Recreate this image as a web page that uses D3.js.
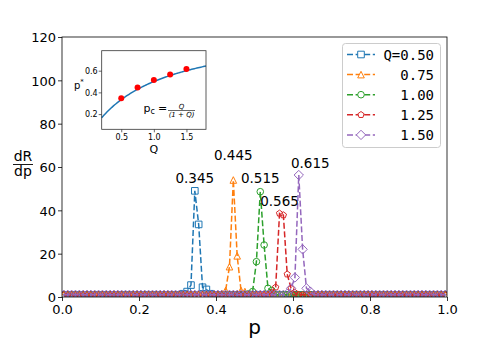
<!DOCTYPE html>
<html>
<head>
<meta charset="utf-8">
<script src="https://cdn.jsdelivr.net/npm/d3@7"></script>
<style>
  body { margin: 0; background: #fff; }
  text { font-family: "DejaVu Sans", sans-serif; fill: #000; }
</style>
</head>
<body>
<div id="chart"></div>
<script>
var width = 491, height = 350;
var margin = {left: 62, top: 37, right: 44, bottom: 53};

// p sampled at 0.005, 0.015, ..., 0.995
var pValues = d3.range(100).map(function(i) { return 0.005 + 0.01 * i; });

var qLabels = ["Q=0.50", "0.75", "1.00", "1.25", "1.50"];
var qValues = [0.5, 0.75, 1.0, 1.25, 1.5];
var peakP = [0.345, 0.445, 0.515, 0.565, 0.615];

var dR_q050 = [
  1,1,1,1,1,1,1,1,1,1,
  1,1,1,1,1,1,1,1,1,1,
  1,1,1,1,1,1,1,1,1,1,
  1,1.5,2.5,5.5,49,33.5,4.5,3.5,1.5,1,
  1,1,1,1,1,1,1,1,1,1,
  1,1,1,1,1,1,1,1,1,1,
  1,1,1,1,1,1,1,1,1,1,
  1,1,1,1,1,1,1,1,1,1,
  1,1,1,1,1,1,1,1,1,1,
  1,1,1,1,1,1,1,1,1,1
];
var dR_q075 = [
  1,1,1,1,1,1,1,1,1,1,
  1,1,1,1,1,1,1,1,1,1,
  1,1,1,1,1,1,1,1,1,1,
  1,1,1,1,1,1,1,1,1,1,
  1,1.5,3,14,54,19,3,2.5,1,1,
  1,1,1,1,1,1,1,1,1,1,
  1,1,1,1,1,1,1,1,1,1,
  1,1,1,1,1,1,1,1,1,1,
  1,1,1,1,1,1,1,1,1,1,
  1,1,1,1,1,1,1,1,1,1
];
var dR_q100 = [
  1,1,1,1,1,1,1,1,1,1,
  1,1,1,1,1,1,1,1,1,1,
  1,1,1,1,1,1,1,1,1,1,
  1,1,1,1,1,1,1,1,1,1,
  1,1,1,1,1,1,1,1,1.5,2.5,
  16.3,48.6,24,4,3,1,1,1,1,1,
  1,1,1,1,1,1,1,1,1,1,
  1,1,1,1,1,1,1,1,1,1,
  1,1,1,1,1,1,1,1,1,1,
  1,1,1,1,1,1,1,1,1,1
];
var dR_q125 = [
  1,1,1,1,1,1,1,1,1,1,
  1,1,1,1,1,1,1,1,1,1,
  1,1,1,1,1,1,1,1,1,1,
  1,1,1,1,1,1,1,1,1,1,
  1,1,1,1,1,1,1,1,1,1,
  1,1,1,1,2,4.5,38.6,37.8,10.5,4,
  2,1,1,1,1,1,1,1,1,1,
  1,1,1,1,1,1,1,1,1,1,
  1,1,1,1,1,1,1,1,1,1,
  1,1,1,1,1,1,1,1,1,1
];
var dR_q150 = [
  1,1,1,1,1,1,1,1,1,1,
  1,1,1,1,1,1,1,1,1,1,
  1,1,1,1,1,1,1,1,1,1,
  1,1,1,1,1,1,1,1,1,1,
  1,1,1,1,1,1,1,1,1,1,
  1,1,1,1,1,1,1,1,1.5,4,
  9,56.3,22,4,2.5,1,1,1,1,1,
  1,1,1,1,1,1,1,1,1,1,
  1,1,1,1,1,1,1,1,1,1,
  1,1,1,1,1,1,1,1,1,1
];
var seriesValues = [dR_q050, dR_q075, dR_q100, dR_q125, dR_q150];

// peak annotation anchors (data coords)
var annotX = [0.345, 0.445, 0.515, 0.565, 0.645];
var annotY = [52.5, 63.2, 52.5, 41.9, 59.5];

var xTicks = [0, 0.2, 0.4, 0.6, 0.8, 1.0];
var yTicks = [0, 20, 40, 60, 80, 100, 120];

var insetXTicks = [0.5, 1.0, 1.5];
var insetYTicks = [0.2, 0.4, 0.6];

var colors = ["#1f77b4", "#ff7f0e", "#2ca02c", "#d62728", "#9467bd"];
var markers = ["square", "triangle", "circle", "pentagon", "diamond"];

var svg = d3.select("#chart").append("svg")
    .attr("width", width)
    .attr("height", height);

var x = d3.scaleLinear().domain([0, 1]).range([margin.left, width - margin.right]);
var y = d3.scaleLinear().domain([0, 120]).range([height - margin.bottom, margin.top]);

function markerPath(kind, s) {
  var h = s / 2, p = d3.path();
  if (kind === "square") {
    p.rect(-h, -h, s, s);
  } else if (kind === "triangle") {
    p.moveTo(0, -h); p.lineTo(h, h); p.lineTo(-h, h); p.closePath();
  } else if (kind === "circle") {
    p.arc(0, 0, h, 0, 2 * Math.PI); p.closePath();
  } else if (kind === "pentagon") {
    for (var k = 0; k < 5; k++) {
      var a = -Math.PI / 2 + k * 2 * Math.PI / 5;
      if (k === 0) p.moveTo(h * Math.cos(a), h * Math.sin(a));
      else p.lineTo(h * Math.cos(a), h * Math.sin(a));
    }
    p.closePath();
  } else if (kind === "diamond") {
    var d = h * Math.SQRT2;
    p.moveTo(0, -d); p.lineTo(d, 0); p.lineTo(0, d); p.lineTo(-d, 0); p.closePath();
  }
  return p.toString();
}

// clip
svg.append("clipPath").attr("id", "plotclip").append("rect")
    .attr("x", x(0)).attr("y", y(120))
    .attr("width", x(1) - x(0)).attr("height", y(0) - y(120));

var plot = svg.append("g").attr("clip-path", "url(#plotclip)");

var line = d3.line()
    .x(function(d) { return x(d[0]); })
    .y(function(d) { return y(d[1]); });

seriesValues.forEach(function(vals, si) {
  var pts = pValues.map(function(p, i) { return [p, vals[i]]; });
  var g = plot.append("g");
  g.append("path")
      .attr("d", line(pts))
      .attr("fill", "none")
      .attr("stroke", colors[si])
      .attr("stroke-width", 1.5)
      .attr("stroke-dasharray", "6,2.6");
  g.selectAll(".mk").data(pts).enter().append("path")
      .attr("transform", function(d) { return "translate(" + x(d[0]) + "," + y(d[1]) + ")"; })
      .attr("d", markerPath(markers[si], 6.6))
      .attr("fill", "none")
      .attr("stroke", colors[si])
      .attr("stroke-width", 1);
});

// axes
var xAxis = svg.append("g")
    .attr("transform", "translate(0," + y(0) + ")")
    .call(d3.axisBottom(x).tickValues(xTicks).tickFormat(d3.format(".1f")).tickSizeOuter(0).tickSize(4));
var yAxis = svg.append("g")
    .attr("transform", "translate(" + x(0) + ",0)")
    .call(d3.axisLeft(y).tickValues(yTicks).tickFormat(d3.format("d")).tickSizeOuter(0).tickSize(4));
[xAxis, yAxis].forEach(function(a) {
  a.select(".domain").remove();
  a.selectAll("text").style("font-family", "DejaVu Sans").style("font-size", "13px").attr("fill", "#000");
  a.selectAll("line").attr("stroke", "#000").attr("stroke-width", 0.8);
});
xAxis.selectAll("text").attr("dy", "0.95em").attr("y", 5);
yAxis.selectAll("text").attr("x", -6).attr("dy", "0.36em");

svg.append("rect")
    .attr("x", x(0)).attr("y", y(120))
    .attr("width", x(1) - x(0)).attr("height", y(0) - y(120))
    .attr("fill", "none").attr("stroke", "#000").attr("stroke-width", 0.8);

// axis labels
svg.append("text")
    .attr("x", (x(0) + x(1)) / 2).attr("y", 334)
    .attr("text-anchor", "middle").style("font-size", "20px").text("p");

var yl = svg.append("g").attr("transform", "translate(23,0)");
yl.append("text").attr("x", 0).attr("y", 161).attr("text-anchor", "middle").style("font-size", "14px").text("dR");
yl.append("line").attr("x1", -10).attr("x2", 10).attr("y1", 164.5).attr("y2", 164.5).attr("stroke", "#000").attr("stroke-width", 0.9);
yl.append("text").attr("x", 0).attr("y", 176).attr("text-anchor", "middle").style("font-size", "14px").text("dp");

// peak annotations
peakP.forEach(function(p, i) {
  svg.append("text")
      .attr("x", x(annotX[i])).attr("y", y(annotY[i]))
      .attr("text-anchor", "middle").style("font-size", "13.5px")
      .text(d3.format(".3f")(p));
});

// legend
var lg = svg.append("g");
lg.append("rect")
    .attr("x", 342.5).attr("y", 43.5).attr("width", 98).attr("height", 104)
    .attr("rx", 3).attr("fill", "#fff").attr("fill-opacity", 0.8)
    .attr("stroke", "#ccc").attr("stroke-width", 1);
qLabels.forEach(function(lab, i) {
  var yy = 54.5 + i * 20.1;
  lg.append("line")
      .attr("x1", 347).attr("x2", 375).attr("y1", yy).attr("y2", yy)
      .attr("stroke", colors[i]).attr("stroke-width", 1.5).attr("stroke-dasharray", "6,2.6");
  lg.append("path")
      .attr("transform", "translate(361," + yy + ")")
      .attr("d", markerPath(markers[i], 6.6))
      .attr("fill", "#fff").attr("stroke", colors[i]).attr("stroke-width", 1);
  lg.append("text")
      .attr("x", 434).attr("y", yy).attr("dy", "0.36em")
      .attr("text-anchor", "end")
      .style("font-family", "DejaVu Sans Mono").style("font-size", "14px")
      .text(lab);
});

// inset
var ix = d3.scaleLinear().domain([0.2, 1.8]).range([101.7, 206]);
var iy = d3.scaleLinear().domain([0.06, 0.784]).range([129.3, 50.7]);
var inset = svg.append("g");
inset.append("rect")
    .attr("x", ix(0.2)).attr("y", iy(0.784))
    .attr("width", ix(1.8) - ix(0.2)).attr("height", iy(0.06) - iy(0.784))
    .attr("fill", "#fff");

var curveQ = d3.range(0.2, 1.8001, 0.02);
inset.append("path")
    .attr("d", d3.line()
      .x(function(q) { return ix(q); })
      .y(function(q) { return iy(q / (1 + q)); })(curveQ))
    .attr("fill", "none").attr("stroke", "#1f77b4").attr("stroke-width", 1.5);

inset.selectAll(".dot").data(qValues).enter().append("circle")
    .attr("cx", function(q) { return ix(q); })
    .attr("cy", function(q, i) { return iy(peakP[i]); })
    .attr("r", 3).attr("fill", "#ff0000");

var ixa = inset.append("g").attr("transform", "translate(0," + iy(0.06) + ")")
    .call(d3.axisBottom(ix).tickValues(insetXTicks).tickFormat(d3.format(".1f")).tickSizeOuter(0).tickSize(3));
var iya = inset.append("g").attr("transform", "translate(" + ix(0.2) + ",0)")
    .call(d3.axisLeft(iy).tickValues(insetYTicks).tickFormat(d3.format(".1f")).tickSizeOuter(0).tickSize(3));
[ixa, iya].forEach(function(a) {
  a.select(".domain").remove();
  a.selectAll("text").style("font-family", "DejaVu Sans").style("font-size", "8px").attr("fill", "#000");
  a.selectAll("line").attr("stroke", "#000").attr("stroke-width", 0.6);
});
ixa.selectAll("text").attr("y", 4).attr("dy", "0.9em");
iya.selectAll("text").attr("x", -4).attr("dy", "0.34em");

inset.append("rect")
    .attr("x", ix(0.2)).attr("y", iy(0.784))
    .attr("width", ix(1.8) - ix(0.2)).attr("height", iy(0.06) - iy(0.784))
    .attr("fill", "none").attr("stroke", "#333").attr("stroke-width", 0.8);

inset.append("text").attr("x", ix(1.0)).attr("y", 153)
    .attr("text-anchor", "middle").style("font-size", "11px").text("Q");
var ps = inset.append("text").attr("x", 74).attr("y", 89).style("font-size", "10px");
ps.append("tspan").text("p");
ps.append("tspan").attr("dy", -5).style("font-size", "7px").text("*");

var fm = inset.append("g");
var pc = fm.append("text").attr("x", 143.5).attr("y", 112).style("font-size", "11px");
pc.append("tspan").text("p");
pc.append("tspan").attr("dy", 2).style("font-size", "8px").text("c");
fm.append("text").attr("x", 158).attr("y", 112).style("font-size", "11px").text("=");
fm.append("text").attr("x", 181.5).attr("y", 108.5).attr("text-anchor", "middle")
    .style("font-size", "7px").style("font-style", "italic").text("Q");
fm.append("line").attr("x1", 168).attr("x2", 195).attr("y1", 110.5).attr("y2", 110.5)
    .attr("stroke", "#000").attr("stroke-width", 0.6);
fm.append("text").attr("x", 181.5).attr("y", 116.5).attr("text-anchor", "middle")
    .style("font-size", "7px").style("font-style", "italic").text("(1 + Q)");
</script>
</body>
</html>
